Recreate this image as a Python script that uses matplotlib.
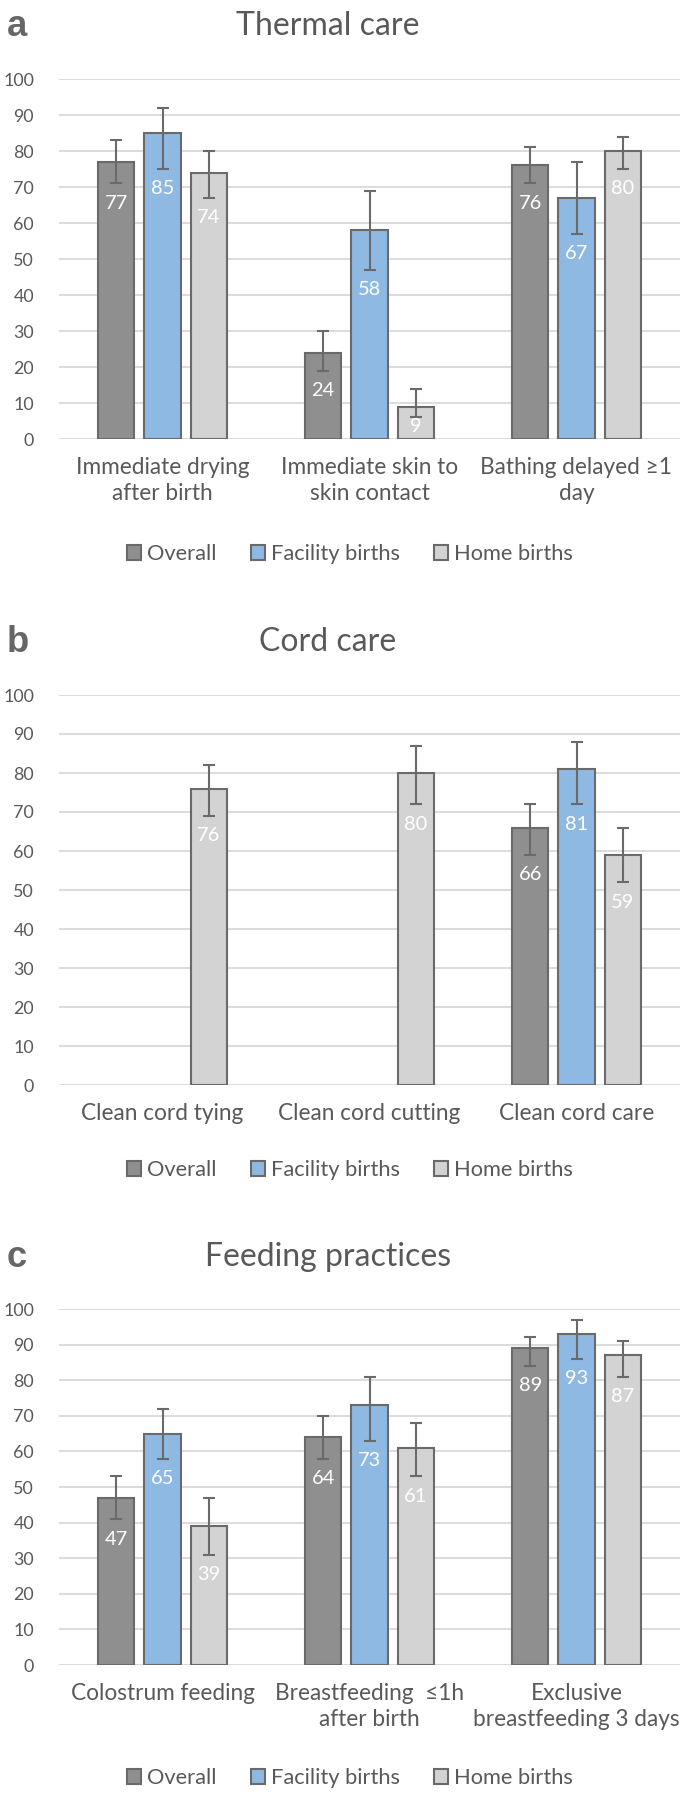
import matplotlib
matplotlib.use("Agg")
import matplotlib.pyplot as plt
from matplotlib.patches import Patch
import numpy as np

plt.rcParams['font.family'] = ['Lato', 'DejaVu Sans']

# ---- data ----
series = ['Overall', 'Facility births', 'Home births']

cats_a = ['Immediate drying\nafter birth', 'Immediate skin to\nskin contact', 'Bathing delayed ≥1\nday']
overall_a = [77, 24, 76]
overall_a_lo = [71, 19, 71]
overall_a_hi = [83, 30, 81]
facility_a = [85, 58, 67]
facility_a_lo = [75, 47, 57]
facility_a_hi = [92, 69, 77]
home_a = [74, 9, 80]
home_a_lo = [67, 6, 75]
home_a_hi = [80, 14, 84]

cats_b = ['Clean cord tying', 'Clean cord cutting', 'Clean cord care']
overall_b = [np.nan, np.nan, 66]
overall_b_lo = [np.nan, np.nan, 59]
overall_b_hi = [np.nan, np.nan, 72]
facility_b = [np.nan, np.nan, 81]
facility_b_lo = [np.nan, np.nan, 72]
facility_b_hi = [np.nan, np.nan, 88]
home_b = [76, 80, 59]
home_b_lo = [69, 72, 52]
home_b_hi = [82, 87, 66]

cats_c = ['Colostrum feeding', 'Breastfeeding  ≤1h\nafter birth', 'Exclusive\nbreastfeeding 3 days']
overall_c = [47, 64, 89]
overall_c_lo = [41, 58, 84]
overall_c_hi = [53, 70, 92]
facility_c = [65, 73, 93]
facility_c_lo = [58, 63, 86]
facility_c_hi = [72, 81, 97]
home_c = [39, 61, 87]
home_c_lo = [31, 53, 81]
home_c_hi = [47, 68, 91]

colors = ['#8f8f8f', '#8db9e3', '#d3d3d3']
edge = '#6a6a6a'
txt = '#595959'

W, H = 680, 1801
fig = plt.figure(figsize=(W / 100, H / 100), dpi=100)
renderer = fig.canvas.get_renderer()


# pick a font size so a sample string gets the width (px) it has in the reference
def fit_size(s, target_px, **kw):
    t = fig.text(0, 0, s, fontsize=10, **kw)
    w = t.get_window_extent(renderer=renderer).width
    t.remove()
    return 10 * target_px / w


fs_title = fit_size('Thermal care', 183)
fs_xtick = fit_size('Immediate drying', 173)
fs_ytick = fit_size('100', 31)
fs_legend = fit_size('Facility births', 129)
fs_label = fit_size('77', 23)
fs_letter = fit_size('a', 20, fontweight='bold', family='Liberation Sans')
leg_px = fs_legend * 100 / 72


def draw_panel(top, bottom, letter, title, title_y, cats, vals, los, his, legend_y):
    ax = fig.add_axes([59 / W, 1 - bottom / H, 621 / W, (bottom - top) / H])
    x = np.arange(len(cats))
    width = 0.174
    offsets = [-0.224, 0, 0.224]
    px_per_unit = (bottom - top) / 100
    for k in range(3):
        v = np.array(vals[k], dtype=float)
        lo = np.array(los[k], dtype=float)
        hi = np.array(his[k], dtype=float)
        xs = x + offsets[k]
        ax.bar(xs, v, width, color=colors[k], edgecolor=edge, linewidth=1.5, zorder=3)
        ax.errorbar(xs, v, yerr=[v - lo, hi - v], fmt='none', ecolor=edge,
                    elinewidth=1.5, capsize=4.5, capthick=1.5, zorder=4)
        for xi, vi, li in zip(xs, v, lo):
            if np.isnan(vi):
                continue
            yc = max(li - 20 / px_per_unit, 13 / px_per_unit)
            ax.text(xi, yc, f'{vi:.0f}', color='white', fontsize=fs_label,
                    ha='center', va='center', zorder=5)
    ax.set_xlim(-0.5, 2.5)
    ax.set_ylim(0, 100)
    ax.set_yticks(range(0, 101, 10))
    ax.set_xticks(x)
    ax.set_xticklabels(cats, linespacing=1.3)
    ax.grid(axis='y', color='#d9d9d9', linewidth=1.3, zorder=0)
    ax.set_axisbelow(True)
    for s in ax.spines.values():
        s.set_visible(False)
    ax.tick_params(axis='y', length=0, pad=18, labelsize=fs_ytick, labelcolor=txt)
    ax.tick_params(axis='x', length=0, pad=13, labelsize=fs_xtick, labelcolor=txt)

    fig.text(328 / W, 1 - title_y / H, title, ha='center', va='center',
             fontsize=fs_title, color=txt)
    fig.text(7 / W, 1 - title_y / H, letter, ha='left', va='center',
             fontsize=fs_letter, fontweight='bold', color='#666666',
             family='Liberation Sans')

    handles = [Patch(facecolor=colors[k], edgecolor=edge, linewidth=1.5) for k in range(3)]
    fig.legend(handles, series, loc='center', bbox_to_anchor=(350 / W, 1 - legend_y / H),
               ncol=3, frameon=False, fontsize=fs_legend, labelcolor=txt,
               handlelength=14 / leg_px, handleheight=14 / leg_px,
               handletextpad=6 / leg_px, columnspacing=34 / leg_px, borderpad=0)


draw_panel(79, 439, 'a', 'Thermal care', 26, cats_a,
           [overall_a, facility_a, home_a],
           [overall_a_lo, facility_a_lo, home_a_lo],
           [overall_a_hi, facility_a_hi, home_a_hi], 554)
draw_panel(695, 1085, 'b', 'Cord care', 642, cats_b,
           [overall_b, facility_b, home_b],
           [overall_b_lo, facility_b_lo, home_b_lo],
           [overall_b_hi, facility_b_hi, home_b_hi], 1170)
draw_panel(1309, 1665, 'c', 'Feeding practices', 1257, cats_c,
           [overall_c, facility_c, home_c],
           [overall_c_lo, facility_c_lo, home_c_lo],
           [overall_c_hi, facility_c_hi, home_c_hi], 1778)

fig.savefig('out.png', dpi=100, facecolor='white')
